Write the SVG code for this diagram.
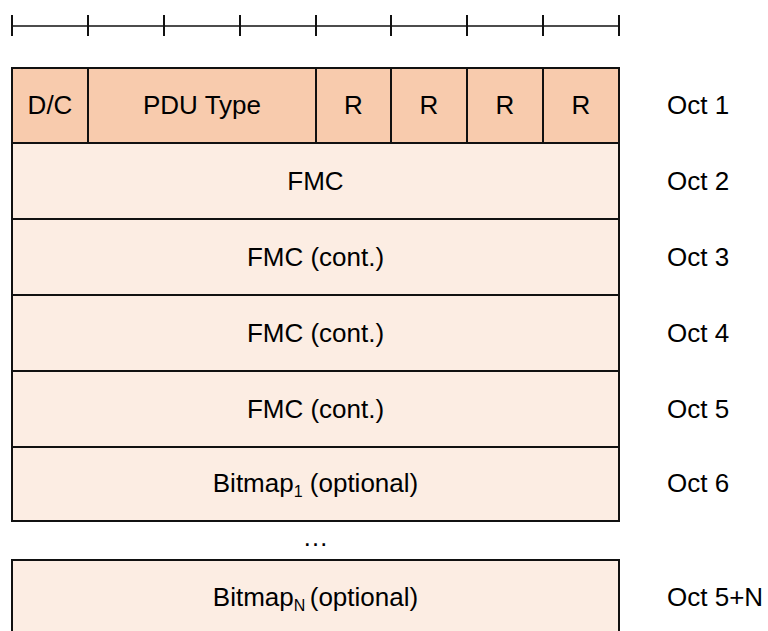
<svg xmlns="http://www.w3.org/2000/svg" width="768" height="631" viewBox="0 0 768 631">
<style>
  .lbl { font-family: "Liberation Sans", Arial, sans-serif; font-size: 26px; fill: #000; text-anchor: middle; }
  .oct { font-family: "Liberation Sans", Arial, sans-serif; font-size: 26px; fill: #000; text-anchor: start; }
  .hdr { fill: #F8CBAD; stroke: #111; stroke-width: 2; }
  .row { fill: #FCEDE3; stroke: #111; stroke-width: 2; }
  .tick { stroke: #111; stroke-width: 2; }
  .rule { stroke: #111; stroke-width: 1.3; }
</style>
<rect width="768" height="631" fill="#fff"/>
<g id="ruler">
  <line class="rule" x1="12" y1="26" x2="619" y2="26"/>
  <line class="tick" x1="12" y1="15" x2="12" y2="36"/>
  <line class="tick" x1="88" y1="15" x2="88" y2="36"/>
  <line class="tick" x1="164" y1="15" x2="164" y2="36"/>
  <line class="tick" x1="240" y1="15" x2="240" y2="36"/>
  <line class="tick" x1="316" y1="15" x2="316" y2="36"/>
  <line class="tick" x1="391" y1="15" x2="391" y2="36"/>
  <line class="tick" x1="467" y1="15" x2="467" y2="36"/>
  <line class="tick" x1="543" y1="15" x2="543" y2="36"/>
  <line class="tick" x1="619" y1="15" x2="619" y2="36"/>
</g>
<g id="oct1">
  <rect class="hdr" x="12" y="68" width="76" height="75"/>
  <text class="lbl" x="50" y="114">D/C</text>
  <rect class="hdr" x="88" y="68" width="228" height="75"/>
  <text class="lbl" x="202" y="114">PDU Type</text>
  <rect class="hdr" x="316" y="68" width="75" height="75"/>
  <text class="lbl" x="353.5" y="114">R</text>
  <rect class="hdr" x="391" y="68" width="76" height="75"/>
  <text class="lbl" x="429" y="114">R</text>
  <rect class="hdr" x="467" y="68" width="76" height="75"/>
  <text class="lbl" x="505" y="114">R</text>
  <rect class="hdr" x="543" y="68" width="76" height="75"/>
  <text class="lbl" x="581" y="114">R</text>
  <text class="oct" x="667" y="114">Oct 1</text>
</g>
<g id="oct2">
  <rect class="row" x="12" y="143" width="607" height="76"/>
  <text class="lbl" x="315.5" y="190">FMC</text>
  <text class="oct" x="667" y="190">Oct 2</text>
</g>
<g id="oct3">
  <rect class="row" x="12" y="219" width="607" height="76"/>
  <text class="lbl" x="315.5" y="266">FMC (cont.)</text>
  <text class="oct" x="667" y="266">Oct 3</text>
</g>
<g id="oct4">
  <rect class="row" x="12" y="295" width="607" height="76"/>
  <text class="lbl" x="315.5" y="342">FMC (cont.)</text>
  <text class="oct" x="667" y="342">Oct 4</text>
</g>
<g id="oct5">
  <rect class="row" x="12" y="371" width="607" height="76"/>
  <text class="lbl" x="315.5" y="418">FMC (cont.)</text>
  <text class="oct" x="667" y="418">Oct 5</text>
</g>
<g id="oct6">
  <rect class="row" x="12" y="447" width="607" height="74"/>
  <text class="lbl" x="315.5" y="492">Bitmap<tspan font-size="16" dy="5">1</tspan><tspan dy="-5"> (optional)</tspan></text>
  <text class="oct" x="667" y="492">Oct 6</text>
</g>
<g id="ellipsis">
  <text class="lbl" x="315.5" y="546">…</text>
</g>
<g id="oct5n">
  <rect class="row" x="12" y="560" width="607" height="80"/>
  <text class="lbl" x="315.5" y="606">Bitmap<tspan font-size="16" dy="5">N </tspan><tspan dy="-5">(optional)</tspan></text>
  <text class="oct" x="667" y="606">Oct 5+N</text>
</g>
<g id="connectors"></g>
</svg>
